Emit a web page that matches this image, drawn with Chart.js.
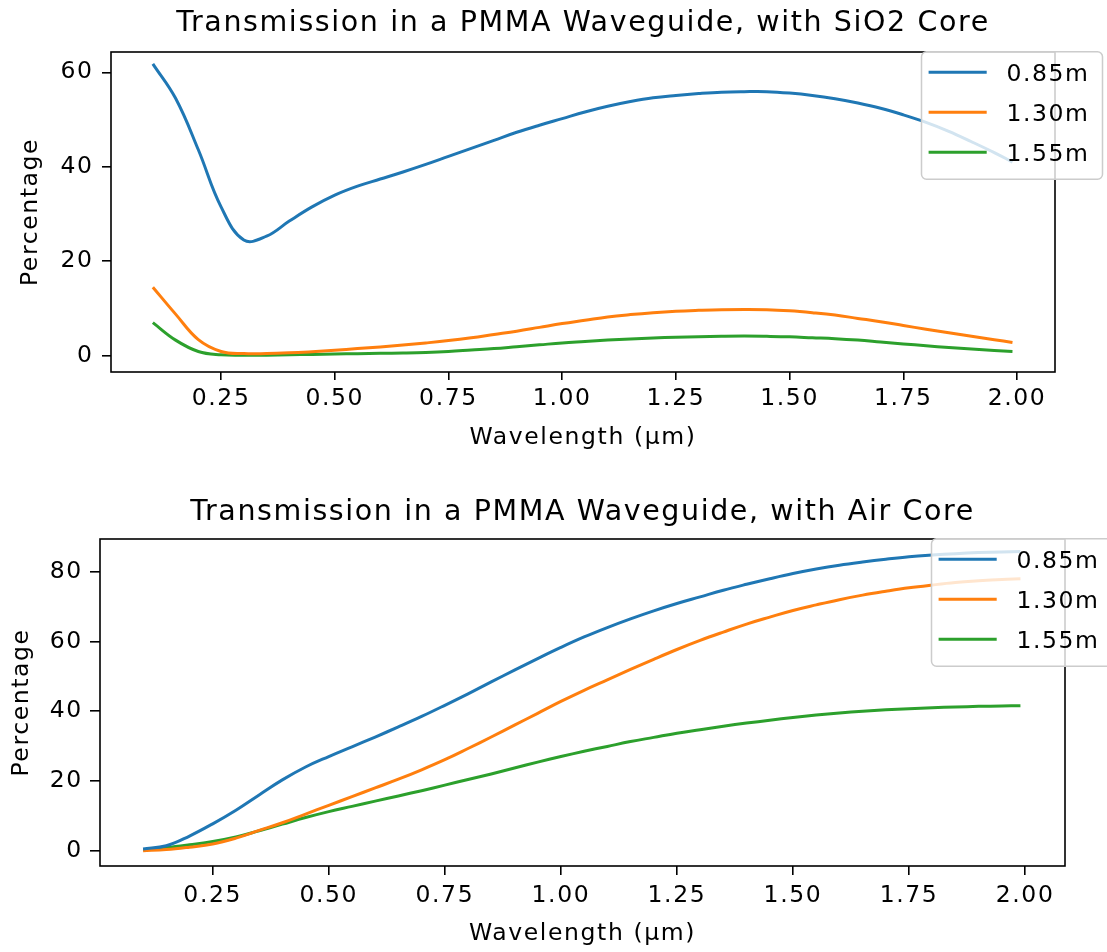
<!DOCTYPE html>
<html>
<head>
<meta charset="utf-8">
<title>Transmission in a PMMA Waveguide</title>
<script src="https://cdn.jsdelivr.net/npm/chart.js@4.4.1/dist/chart.umd.min.js"></script>
<style>
body{margin:0;background:#fff;}
#wrap{position:relative;width:1107px;height:952px;background:#fff;}
canvas{position:absolute;left:0;}
</style>
</head>
<body>
<div id="wrap">
<canvas id="sio2Chart" width="1107" height="476" style="top:0px"></canvas>
<canvas id="airChart" width="1107" height="476" style="top:476px"></canvas>
</div>
<script>
//values, one every 0.05 um
const wavelengths=[0.10,0.15,0.20,0.25,0.30,0.35,0.40,0.45,0.50,0.55,0.60,0.65,0.70,0.75,0.80,0.85,0.90,0.95,1.00,1.05,
    1.10,1.15,1.20,1.25,1.30,1.35,1.40,1.45,1.50,1.55,1.60,1.65,1.70,1.75,1.80,1.85,1.90,1.95,1.99];

//SiO2 core
const sio2_085=[61.8,54.5,43.6,31.5,24.5,25.3,28.5,31.5,34.0,35.9,37.4,38.9,40.5,42.2,43.9,45.6,47.3,48.8,50.2,51.6,
    52.8,53.8,54.6,55.1,55.5,55.8,55.9,55.9,55.6,55.1,54.4,53.5,52.4,51.0,49.4,47.5,45.3,43.0,41.0];
const sio2_130=[14.5,8.8,3.4,0.9,0.45,0.45,0.6,0.85,1.15,1.5,1.85,2.25,2.7,3.2,3.8,4.5,5.2,6.0,6.8,7.5,
    8.2,8.7,9.1,9.4,9.6,9.75,9.8,9.75,9.5,9.1,8.6,7.9,7.2,6.4,5.6,4.85,4.1,3.4,2.8];
const sio2_155=[7.0,3.3,0.9,0.2,0.1,0.12,0.2,0.28,0.36,0.43,0.5,0.58,0.7,0.9,1.2,1.5,1.9,2.3,2.7,3.0,
    3.3,3.55,3.75,3.9,4.0,4.1,4.15,4.1,4.0,3.8,3.6,3.3,2.9,2.5,2.1,1.75,1.4,1.1,0.9];

//air core
const air_085=[0.5,1.4,4.2,7.7,11.6,16.0,20.3,24.0,27.0,29.8,32.6,35.5,38.5,41.7,45.0,48.4,51.8,55.1,58.3,61.3,
    64.0,66.5,68.8,70.9,72.8,74.7,76.4,78.0,79.5,80.8,81.9,82.8,83.6,84.3,84.8,85.2,85.5,85.7,85.8];
const air_130=[0.0,0.3,1.0,1.9,3.6,5.8,8.0,10.5,13.0,15.5,18.0,20.5,23.2,26.1,29.3,32.6,36.0,39.4,42.8,46.0,
    49.0,52.0,54.9,57.7,60.3,62.7,65.0,67.0,68.9,70.5,72.0,73.3,74.4,75.4,76.2,76.9,77.4,77.8,78.0];
const air_155=[0.3,0.9,1.7,2.6,3.9,5.7,7.6,9.5,11.2,12.7,14.2,15.7,17.2,18.8,20.4,22.0,23.7,25.4,27.0,28.5,
    29.9,31.3,32.5,33.7,34.7,35.7,36.6,37.4,38.2,38.9,39.5,40.0,40.4,40.7,41.0,41.2,41.4,41.5,41.6];

const seriesLabels=["0.85m","1.30m","1.55m"];
const seriesColors=["#1f77b4","#ff7f0e","#2ca02c"];
const xTicks=[0.25,0.5,0.75,1.0,1.25,1.5,1.75,2.0];
const sio2YTicks=[0,20,40,60];
const airYTicks=[0,20,40,60,80];

Chart.defaults.font.family="'DejaVu Sans', sans-serif";
Chart.defaults.color="#000";

function points(values){
    return wavelengths.map(function(w,i){
        return {x:w,y:values[i]};
    });
}

//box around the axes and the legend in the top right corner
const frameAndLegend={
    id:"frameAndLegend",
    beforeLayout(chart){
        chart.ctx.letterSpacing="1.6px";
    },
    beforeDraw(chart){
        chart.ctx.letterSpacing="1.6px";
    },
    afterDraw(chart){
        const ctx=chart.ctx;
        const a=chart.chartArea;
        ctx.save();
        ctx.strokeStyle="#000";
        ctx.lineWidth=1.6;
        ctx.strokeRect(a.left,a.top,a.right-a.left,a.bottom-a.top);

        ctx.beginPath();
        ctx.roundRect(a.right-133.5,a.top-0.3,181,127.5,5);
        ctx.fillStyle="rgba(255,255,255,0.8)";
        ctx.fill();
        ctx.strokeStyle="#cccccc";
        ctx.lineWidth=1.5;
        ctx.stroke();

        ctx.font="23.5px 'DejaVu Sans'";
        ctx.textBaseline="middle";
        ctx.textAlign="left";
        chart.data.datasets.forEach(function(ds,i){
            var y=a.top+20.3+i*40;
            ctx.strokeStyle=ds.borderColor;
            ctx.lineWidth=3;
            ctx.beginPath();
            ctx.moveTo(a.right-126.4,y);
            ctx.lineTo(a.right-68.3,y);
            ctx.stroke();
            ctx.fillStyle="#000";
            ctx.fillText(ds.label,a.right-48.6,y+2.5);
        });
        ctx.restore();
    }
};

function makeChart(id,title,series,yTicks,box){
    let c=document.getElementById(id).getContext("2d");
    return new Chart(c,{
        type:"line",
        data:{
            datasets:series.map(function(vals,i){
                return {
                    label:seriesLabels[i],
                    data:points(vals),
                    borderColor:seriesColors[i],
                    backgroundColor:seriesColors[i],
                    borderWidth:3,
                    pointRadius:0,
                    tension:0.4,
                    fill:false
                };
            })
        },
        options:{
            responsive:false,
            animation:false,
            devicePixelRatio:1,
            layout:{padding:{left:0,right:box.padRight,top:0,bottom:0}},
            plugins:{
                legend:{display:false},
                tooltip:{enabled:false},
                title:{
                    display:true,
                    text:title,
                    fullSize:false,
                    color:"#000",
                    font:{size:28.5,weight:"normal"},
                    padding:{top:box.titleTop,bottom:box.titleBottom}
                }
            },
            scales:{
                x:{
                    type:"linear",
                    min:box.xMin,
                    max:box.xMax,
                    afterFit:function(s){s.height=box.xHeight;},
                    afterBuildTicks:function(s){s.ticks=xTicks.map(function(v){return {value:v};});},
                    grid:{drawOnChartArea:false,drawTicks:true,tickLength:box.xTickLen,color:"#000",lineWidth:1.6},
                    border:{display:false},
                    ticks:{
                        padding:box.xPad,
                        font:{size:23.5},
                        color:"#000",
                        maxRotation:0,
                        autoSkip:false,
                        callback:function(v){return v.toFixed(2);}
                    },
                    title:{
                        display:true,
                        text:"Wavelength (μm)",
                        font:{size:23.5},
                        color:"#000",
                        padding:{top:0,bottom:box.xTitleBottom}
                    }
                },
                y:{
                    type:"linear",
                    min:box.yMin,
                    max:box.yMax,
                    afterFit:function(s){s.width=box.yWidth;},
                    afterBuildTicks:function(s){s.ticks=yTicks.map(function(v){return {value:v};});},
                    grid:{drawOnChartArea:false,drawTicks:true,tickLength:box.yTickLen,color:"#000",lineWidth:1.6},
                    border:{display:false},
                    ticks:{
                        padding:box.yPad,
                        font:{size:23.5},
                        color:"#000",
                        autoSkip:false,
                        callback:function(v){return String(v);}
                    },
                    title:{
                        display:true,
                        text:"Percentage",
                        font:{size:23.5},
                        color:"#000",
                        padding:{top:box.yTitleTop,bottom:0}
                    }
                }
            }
        },
        plugins:[frameAndLegend]
    });
}

var charts={};
charts.sio2=makeChart("sio2Chart","Transmission in a PMMA Waveguide, with SiO2 Core",
    [sio2_085,sio2_130,sio2_155],sio2YTicks,
    {padRight:52,titleTop:6.5,titleBottom:11.3,xMin:0.008,xMax:2.0835,xHeight:104,xTickLen:8,xPad:5,xTitleBottom:24.5,
     yMin:-3.45,yMax:64.3,yWidth:111,yTickLen:9,yPad:8.4,yTitleTop:17.2});
charts.air=makeChart("airChart","Transmission in a PMMA Waveguide, with Air Core",
    [air_085,air_130,air_155],airYTicks,
    {padRight:42,titleTop:19.8,titleBottom:9,xMin:0.0072,xMax:2.086,xHeight:86,xTickLen:9,xPad:6.5,xTitleBottom:4.5,
     yMin:-4.4,yMax:89.4,yWidth:100,yTickLen:10,yPad:7.1,yTitleTop:7.6});
</script>
</body>
</html>
